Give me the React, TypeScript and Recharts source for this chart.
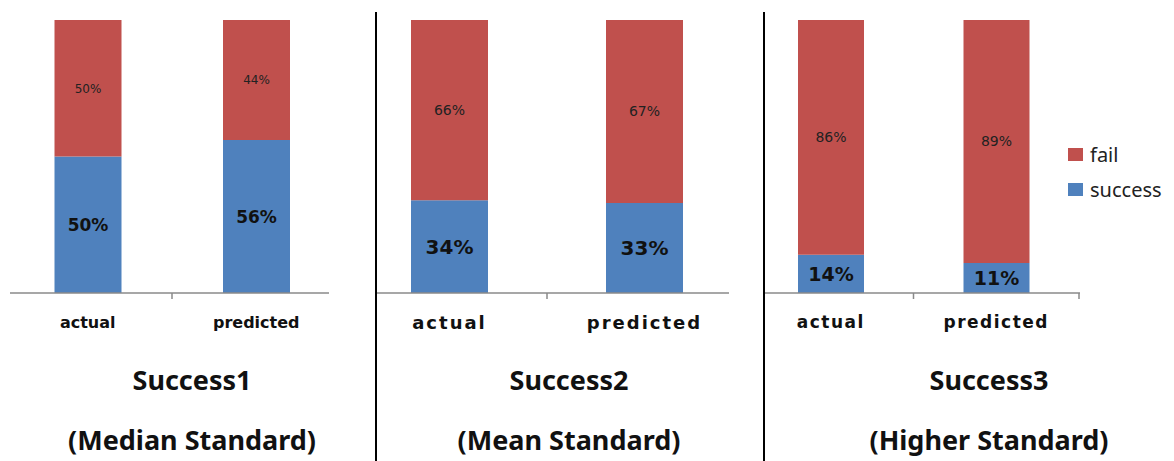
import React from "react";
import { BarChart, Bar, XAxis, YAxis, LabelList } from "recharts";

const categories = ["actual", "predicted"];
const success1 = [50, 56];
const fail1 = [50, 44];
const success2 = [34, 33];
const fail2 = [66, 67];
const success3 = [14, 11];
const fail3 = [86, 89];
const titles = ["Success1", "Success2", "Success3"];
const subtitles = ["(Median Standard)", "(Mean Standard)", "(Higher Standard)"];
const legendNames = ["fail", "success"];

const BLUE = "#4F81BD";
const RED = "#C0504D";
const legendColors = [RED, BLUE];
const LABEL_FONT = "'DejaVu Sans', Verdana, sans-serif";
const TITLE_FONT = "'Noto Sans', 'Open Sans', sans-serif";

const makeRows = (s: number[], f: number[]) =>
  categories.map((name, i) => ({ name, success: s[i], fail: f[i] }));

const panels = [
  {
    rows: makeRows(success1, fail1),
    left: 0, width: 376, mLeft: 10, mRight: 47,
    pad: { left: -6.5, right: -11.5 },
    barSize: 67, succFont: 17, failFont: 12, tickFont: 16, spacing: 0,
    endTick: false, center: 192,
  },
  {
    rows: makeRows(success2, fail2),
    left: 376, width: 388, mLeft: 0, mRight: 35,
    pad: { left: -24, right: -13 },
    barSize: 77, succFont: 20, failFont: 14, tickFont: 18, spacing: 2,
    endTick: false, center: 569,
  },
  {
    rows: makeRows(success3, fail3),
    left: 764, width: 320, mLeft: 0, mRight: 4,
    pad: { left: -16, right: 1 },
    barSize: 66, succFont: 19, failFont: 14, tickFont: 17, spacing: 1.5,
    endTick: true, center: 989,
  },
];

function CategoryTick(props: any) {
  const { x, y, payload, index, fontSize, spacing, endTick, count } = props;
  const half = payload?.offset ?? 0;
  const edge = x + half;
  return (
    <g>
      <text
        x={x}
        y={y + 29}
        textAnchor="middle"
        dominantBaseline="central"
        fontFamily={LABEL_FONT}
        fontWeight="bold"
        fontSize={fontSize}
        letterSpacing={spacing}
        fill="#111"
      >
        {payload.value}
      </text>
      {(index === 0 || (endTick && index === count - 1)) && (
        <line x1={edge} x2={edge} y1={y} y2={y + 6} stroke="#8a8a8a" strokeWidth={1.5} />
      )}
    </g>
  );
}

export default function App() {
  return (
    <div style={{ position: "absolute", left: 0, top: 0, width: 1174, height: 461, background: "#fff" }}>
      {panels.map((p, i) => (
        <div key={i} style={{ position: "absolute", left: p.left, top: 0 }}>
          <BarChart
            width={p.width}
            height={340}
            data={p.rows}
            margin={{ top: 20, right: p.mRight, bottom: 0, left: p.mLeft }}
          >
            <XAxis
              dataKey="name"
              padding={p.pad as any}
              height={47}
              tickSize={0}
              tickMargin={0}
              tickLine={false}
              axisLine={{ stroke: "#8a8a8a", strokeWidth: 1.5 }}
              interval={0}
              tick={(t: any) => (
                <CategoryTick
                  {...t}
                  fontSize={p.tickFont}
                  spacing={p.spacing}
                  endTick={p.endTick}
                  count={categories.length}
                />
              )}
            />
            <YAxis hide domain={[0, 100]} />
            <Bar dataKey="success" name="success" stackId="a" fill={BLUE} barSize={p.barSize} isAnimationActive={false}>
              <LabelList
                dataKey="success"
                position="center"
                formatter={(v: any) => `${v}%`}
                fill="#111"
                fontFamily={LABEL_FONT}
                fontWeight="bold"
                fontSize={p.succFont}
              />
            </Bar>
            <Bar dataKey="fail" name="fail" stackId="a" fill={RED} barSize={p.barSize} isAnimationActive={false}>
              <LabelList
                dataKey="fail"
                position="center"
                formatter={(v: any) => `${v}%`}
                fill="#222"
                fontFamily={LABEL_FONT}
                fontSize={p.failFont}
              />
            </Bar>
          </BarChart>
          {[titles[i], subtitles[i]].map((txt, k) => (
            <div
              key={k}
              style={{
                position: "absolute",
                left: p.center - p.left - 200,
                width: 400,
                top: 362 + k * 60,
                textAlign: "center",
                fontFamily: TITLE_FONT,
                fontWeight: "bold",
                fontSize: 27,
                lineHeight: "36px",
                color: "#111",
              }}
            >
              {txt}
            </div>
          ))}
        </div>
      ))}
      <div style={{ position: "absolute", left: 1068, top: 137, fontFamily: TITLE_FONT, fontSize: 20, color: "#222" }}>
        {legendNames.map((n, k) => (
          <div key={n} style={{ display: "flex", alignItems: "center", height: 35 }}>
            <span style={{ width: 15, height: 13, background: legendColors[k], display: "inline-block", marginRight: 7 }} />
            <span>{n}</span>
          </div>
        ))}
      </div>
      <div style={{ position: "absolute", left: 375, top: 12, width: 2, height: 449, background: "#000" }} />
      <div style={{ position: "absolute", left: 763, top: 12, width: 2, height: 449, background: "#000" }} />
    </div>
  );
}
